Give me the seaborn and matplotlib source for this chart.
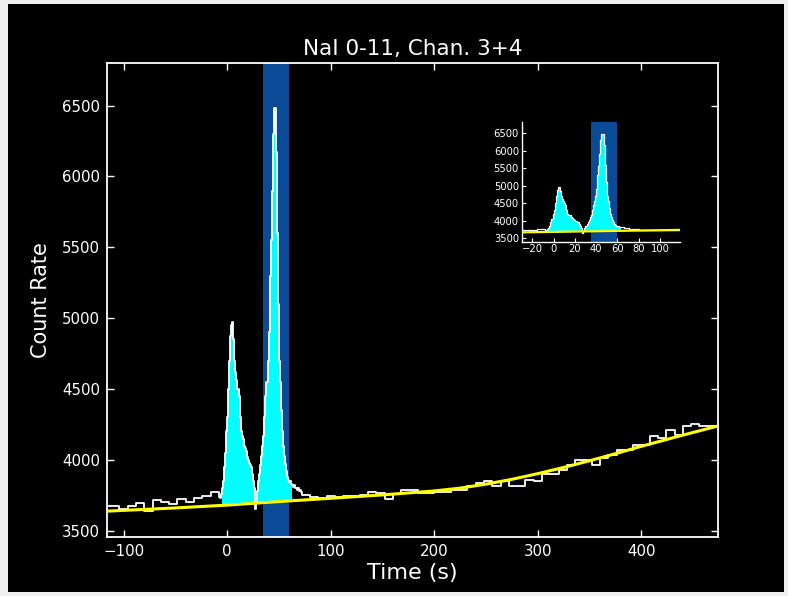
import numpy as np
import pandas as pd
import matplotlib
matplotlib.use("Agg")
import matplotlib.pyplot as plt
from matplotlib.patches import Rectangle
import seaborn as sns

# ---------------- data ----------------
# left background: 8-s bins starting at -120
bg_left_start = -120
bg_left_counts = [3672, 3672, 3655, 3671, 3695, 3640, 3714, 3700, 3690, 3720,
                  3705, 3730, 3745, 3770]
# burst region: 1-s bins starting at -8
burst_start = -8
burst_counts = [3740, 3730, 3760, 3800,            # -8..-5
                3850, 3950, 4050, 4200, 4300, 4500, 4700, 4870, 4950, 4970,  # -4..5
                4850, 4700, 4620, 4560, 4500, 4450, 4300, 4200, 4170, 4150,  # 6..15
                4100, 4080, 4060, 4020, 4000, 3980, 3960, 3950, 3900, 3850,  # 16..25
                3800, 3650, 3700, 3780, 3850, 3900, 3960, 4030, 4100, 4170,  # 26..35
                4300, 4450, 4550, 4700, 4900, 5300, 5550, 5900, 6300, 6480,  # 36..45
                6480, 6170, 5600, 5100, 4700, 4550, 4350, 4200, 4100, 4030,  # 46..55
                3970, 3920, 3880, 3860, 3845, 3850, 3830, 3820, 3810, 3820,  # 56..65
                3800, 3790, 3800, 3780, 3790, 3770]                          # 66..71
# right background: 8-s bins starting at 72
bg_right_start = 72
bg_right_counts = [3754, 3740, 3730, 3745, 3740, 3747, 3745, 3748, 3773, 3762,
                   3725, 3760, 3790, 3790, 3762, 3762, 3770, 3770, 3790, 3790,
                   3813, 3836, 3848, 3817, 3848, 3813, 3813, 3860, 3848, 3902,
                   3902, 3926, 3966, 3996, 4000, 3966, 4013, 4036, 4072, 4072,
                   4107, 4107, 4170, 4154, 4213, 4178, 4236, 4255, 4236, 4236,
                   4236]
# fitted background model (yellow)
fit_time = [-120, -50, 0, 50, 100, 150, 200, 225, 250, 275, 300, 325, 350,
            375, 400, 437, 480]
fit_rate = [3636, 3660, 3680, 3705, 3728, 3752, 3780, 3800, 3828, 3862, 3902,
            3946, 3993, 4043, 4095, 4168, 4250]
# source intervals (cyan) and selected interval (blue)
src_windows = [(-5, 28), (30, 63)]
sel_window = (35, 60)

title = "NaI 0-11, Chan. 3+4"
xlabel = "Time (s)"
ylabel = "Count Rate"
main_yticks = [3500, 4000, 4500, 5000, 5500, 6000, 6500]
main_xticks = [-100, 0, 100, 200, 300, 400]
inset_xticks = [-20, 0, 20, 40, 60, 80, 100]

# ---------------- build series ----------------
edges = np.concatenate([
    bg_left_start + 8 * np.arange(len(bg_left_counts)),
    burst_start + np.arange(len(burst_counts)),
    bg_right_start + 8 * np.arange(len(bg_right_counts) + 1),
]).astype(float)
counts = np.array(bg_left_counts + burst_counts + bg_right_counts, float)
lc = pd.DataFrame({"t": edges, "rate": np.append(counts, counts[-1])})
fit = pd.DataFrame({"t": fit_time, "rate": fit_rate})

# ---------------- style ----------------
sns.set_style("ticks")
plt.rcParams.update({
    "font.family": ["DejaVu Sans"],
    "axes.facecolor": "black",
    "figure.facecolor": "#f0f0f0",
    "text.color": "white",
    "axes.labelcolor": "white",
    "xtick.color": "white",
    "ytick.color": "white",
    "axes.edgecolor": "white",
})

fig = plt.figure(figsize=(7.88, 5.96), dpi=100)
fig.patches.append(Rectangle((8 / 788, 4 / 596), (784 - 8) / 788, (592 - 4) / 596,
                             transform=fig.transFigure, facecolor="black",
                             edgecolor="none", zorder=-10))

ax = fig.add_axes([107 / 788, 1 - 537 / 596, (718 - 107) / 788, (537 - 63) / 596])
axi = fig.add_axes([521.7 / 788, 1 - 241.7 / 596, (680 - 521.7) / 788, (241.7 - 121.7) / 596])


def draw(a, lw_lc, lw_fit):
    a.set_facecolor("black")
    a.axvspan(sel_window[0], sel_window[1], color="#0b4a96", zorder=1, lw=0)
    # cyan source fill
    bg_at = np.interp(edges, fit_time, fit_rate)
    rate = np.append(counts, counts[-1])
    for lo, hi in src_windows:
        m = (edges >= lo) & (edges <= hi)
        a.fill_between(edges[m], bg_at[m], rate[m], step="post",
                       color="#00ffff", lw=0, zorder=2)
    sns.lineplot(data=lc, x="t", y="rate", ax=a, color="white", lw=lw_lc,
                 drawstyle="steps-post", estimator=None, sort=False, zorder=3)
    sns.lineplot(data=fit, x="t", y="rate", ax=a, color="#ffff00", lw=lw_fit,
                 estimator=None, zorder=4)
    a.set_xlabel("")
    a.set_ylabel("")


draw(ax, 1.3, 2.2)
ax.set_xlim(-116, 474)
ax.set_ylim(3455, 6800)
ax.set_xticks(main_xticks)
ax.set_yticks(main_yticks)
ax.tick_params(direction="in", length=5, width=1, top=True, right=True,
               labelsize=10.8, colors="white", pad=5)
for s in ax.spines.values():
    s.set_color("white")
    s.set_linewidth(1.3)
ax.set_title(title, fontsize=15.5, color="white", pad=6)
ax.set_xlabel(xlabel, fontsize=16, color="white", labelpad=3)
ax.set_ylabel(ylabel, fontsize=15, color="white", labelpad=8)

draw(axi, 0.9, 1.6)
axi.set_xlim(-30, 119)
axi.set_ylim(3400, 6830)
axi.set_xticks(inset_xticks)
axi.set_yticks(main_yticks)
axi.tick_params(direction="in", length=3, width=0.8, labelsize=7.2,
                colors="white", pad=2)
axi.spines["top"].set_visible(False)
axi.spines["right"].set_visible(False)
for s in ("left", "bottom"):
    axi.spines[s].set_color("white")
    axi.spines[s].set_linewidth(1.0)

fig.savefig("out.png", dpi=100, facecolor=fig.get_facecolor())
